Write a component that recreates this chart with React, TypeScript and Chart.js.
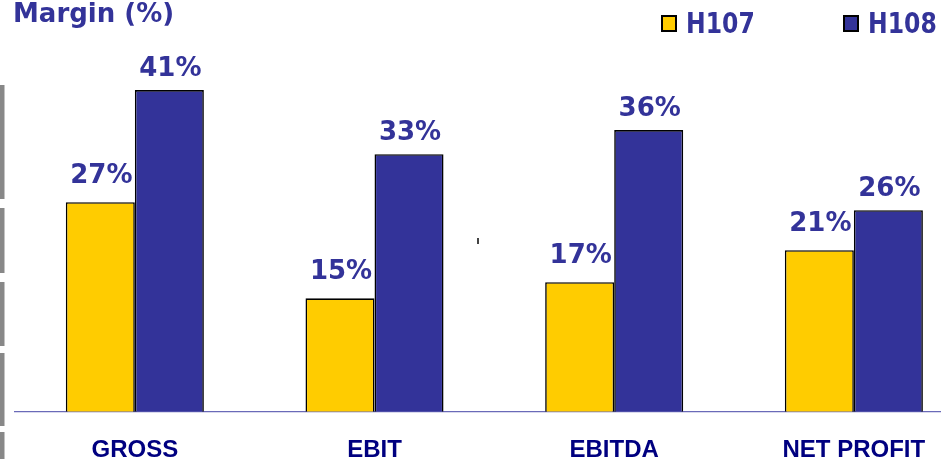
import React, { useEffect, useRef } from "react";
import { Chart, registerables } from "chart.js";

Chart.register(...registerables);

const categories = ["GROSS", "EBIT", "EBITDA", "NET PROFIT"];
const seriesNames = ["H107", "H108"];
const h107 = [27, 15, 17, 21];
const h108 = [41, 33, 36, 26];
const chartTitle = "Margin (%)";

const YELLOW = "#FFCC00";
const BLUE = "#333399";
const LABEL = "#333399";
const NAVY = "#000080";

const overlayPlugin = {
  id: "overlay",
  afterDraw(chart: any) {
    const ctx = chart.ctx;
    ctx.save();
    // left gray strips (decorative edge of slide)
    ctx.fillStyle = "#888888";
    const strips = [
      [85, 199],
      [208, 273],
      [282, 346],
      [353, 426],
      [432, 495],
    ];
    strips.forEach(([a, b]) => ctx.fillRect(0, a, 4.5, b - a));
    // small stray mark
    ctx.fillStyle = "#444444";
    ctx.fillRect(477, 238, 2, 6);

    // title
    ctx.fillStyle = LABEL;
    ctx.font = "bold 26px 'DejaVu Sans'";
    ctx.textAlign = "left";
    ctx.textBaseline = "alphabetic";
    ctx.fillText(chartTitle, 13, 22);

    // legend
    const colors = [YELLOW, BLUE];
    const boxX = [661, 843];
    const textX = [686, 868];
    seriesNames.forEach((name, i) => {
      ctx.fillStyle = colors[i];
      ctx.fillRect(boxX[i], 15, 16, 17);
      ctx.strokeStyle = "#000000";
      ctx.lineWidth = 2;
      ctx.strokeRect(boxX[i] + 1, 16, 14, 15);
      ctx.save();
      ctx.translate(textX[i], 33);
      ctx.scale(0.84, 1);
      ctx.fillStyle = LABEL;
      ctx.font = "bold 28px 'DejaVu Sans'";
      ctx.textAlign = "left";
      ctx.fillText(name, 0, 0);
      ctx.restore();
    });

    // value labels
    ctx.font = "bold 26px 'DejaVu Sans'";
    ctx.textAlign = "center";
    ctx.fillStyle = LABEL;
    const gaps = [19, 14];
    chart.data.datasets.forEach((ds: any, di: number) => {
      const meta = chart.getDatasetMeta(di);
      meta.data.forEach((bar: any, i: number) => {
        ctx.fillText(ds.data[i] + "%", bar.x + 1, bar.y - gaps[di]);
      });
    });
    ctx.restore();
  },
};

export default function App() {
  const ref = useRef<HTMLCanvasElement>(null);
  useEffect(() => {
    if (!ref.current) return;
    const chart = new Chart(ref.current, {
      type: "bar",
      data: {
        labels: categories,
        datasets: [
          {
            label: seriesNames[0],
            data: h107,
            backgroundColor: YELLOW,
            borderColor: "#000000",
            borderWidth: 1.6,
            borderSkipped: false,
          },
          {
            label: seriesNames[1],
            data: h108,
            backgroundColor: BLUE,
            borderColor: "#000000",
            borderWidth: 1.6,
            borderSkipped: false,
          },
        ],
      },
      options: {
        responsive: false,
        animation: false,
        devicePixelRatio: 1,
        layout: { padding: { left: 15, right: 6.3, top: 18, bottom: 5.6 } },
        plugins: {
          legend: { display: false },
          title: { display: false },
          tooltip: { enabled: false },
        },
        datasets: {
          bar: { categoryPercentage: 0.576, barPercentage: 1 },
        },
        scales: {
          x: {
            grid: { display: false, drawTicks: false, tickLength: 0 },
            border: { display: true, color: "#6a6ab8", width: 1.2 },
            ticks: {
              padding: 24.6,
              color: NAVY,
              font: { family: "'Liberation Sans'", size: 24, weight: "bold", lineHeight: 1.2 },
              autoSkip: false,
              maxRotation: 0,
            },
          },
          y: {
            display: false,
            min: 0.875,
            max: 50,
          },
        },
      },
      plugins: [overlayPlugin],
    });
    return () => chart.destroy();
  }, []);

  return (
    <div
      style={{
        position: "fixed",
        left: 0,
        top: 0,
        width: 941,
        height: 459,
        overflow: "hidden",
        background: "#ffffff",
      }}
    >
      <canvas
        ref={ref}
        width={980}
        height={495}
        style={{ display: "block", width: 980, height: 495 }}
      />
    </div>
  );
}
